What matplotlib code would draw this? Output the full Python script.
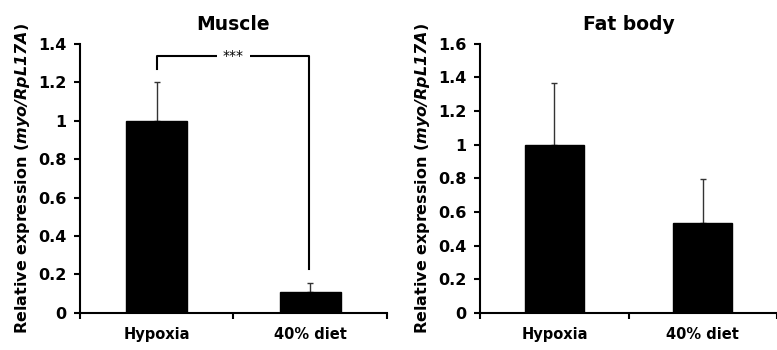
import matplotlib
matplotlib.use('Agg')
import matplotlib.pyplot as plt
from matplotlib.ticker import FuncFormatter

# data
groups = ['Hypoxia', '40% diet']
muscle_mean = [1.0, 0.11]
muscle_err = [0.20, 0.045]
fat_mean = [1.0, 0.535]
fat_err = [0.365, 0.26]

plt.rcParams['font.family'] = 'DejaVu Sans'
plt.rcParams['font.weight'] = 'bold'

fig = plt.figure(figsize=(7.77, 3.5), dpi=100)
ax1 = fig.add_axes([0.103, 0.106, 0.395, 0.769])
ax2 = fig.add_axes([0.618, 0.106, 0.382, 0.769])

ylabel = 'Relative expression (' + r'$\mathbfit{myo/RpL17A}$' + ')'


def style(ax, ymax, title):
    x = [1, 2]
    ax.set_xlim(0.5, 2.5)
    ax.set_ylim(0, ymax)
    for s in ['top', 'right']:
        ax.spines[s].set_visible(False)
    for s in ['left', 'bottom']:
        ax.spines[s].set_linewidth(1.5)
    ax.set_xticks([0.5, 1.5, 2.5])
    ax.set_xticklabels([])
    ax.set_xticks(x, minor=True)
    ax.set_xticklabels(groups, minor=True, fontsize=10.5, fontweight='bold')
    ax.tick_params(axis='x', which='major', direction='out', length=4, width=1.5)
    ax.tick_params(axis='x', which='minor', length=0, pad=10)
    ax.tick_params(axis='y', direction='out', length=4, width=1.5,
                   labelsize=11.5, pad=6)
    ax.yaxis.set_major_formatter(FuncFormatter(lambda v, p: '%g' % round(v, 2)))
    for lab in ax.get_yticklabels():
        lab.set_fontweight('bold')
    ax.set_ylabel(ylabel, fontsize=11.5, fontweight='bold', labelpad=4)
    ax.set_title(title, fontsize=13.5, fontweight='bold', pad=10)


def bars(ax, mean, err):
    x = [1, 2]
    ax.bar(x, mean, width=0.4, color='black', edgecolor='black', zorder=2)
    ax.errorbar(x, mean, yerr=[[0, 0], err], fmt='none', ecolor='#333333',
                elinewidth=1, capsize=2, capthick=1, zorder=1)


bars(ax1, muscle_mean, muscle_err)
style(ax1, 1.4, 'Muscle')
ax1.set_yticks([0, 0.2, 0.4, 0.6, 0.8, 1.0, 1.2, 1.4])

bars(ax2, fat_mean, fat_err)
style(ax2, 1.6, 'Fat body')
ax2.set_yticks([0, 0.2, 0.4, 0.6, 0.8, 1.0, 1.2, 1.4, 1.6])

# significance bracket
bh = 1.335
ax1.plot([1, 1, 1.99, 1.99], [1.27, bh, bh, 0.23], color='black', lw=1.5,
         clip_on=False, zorder=3)
ax1.text(1.5, bh, '***', ha='center', va='center', fontsize=10,
         fontweight='normal', bbox=dict(facecolor='white', edgecolor='none', pad=4),
         zorder=4)

fig.savefig('out.png', dpi=100)
